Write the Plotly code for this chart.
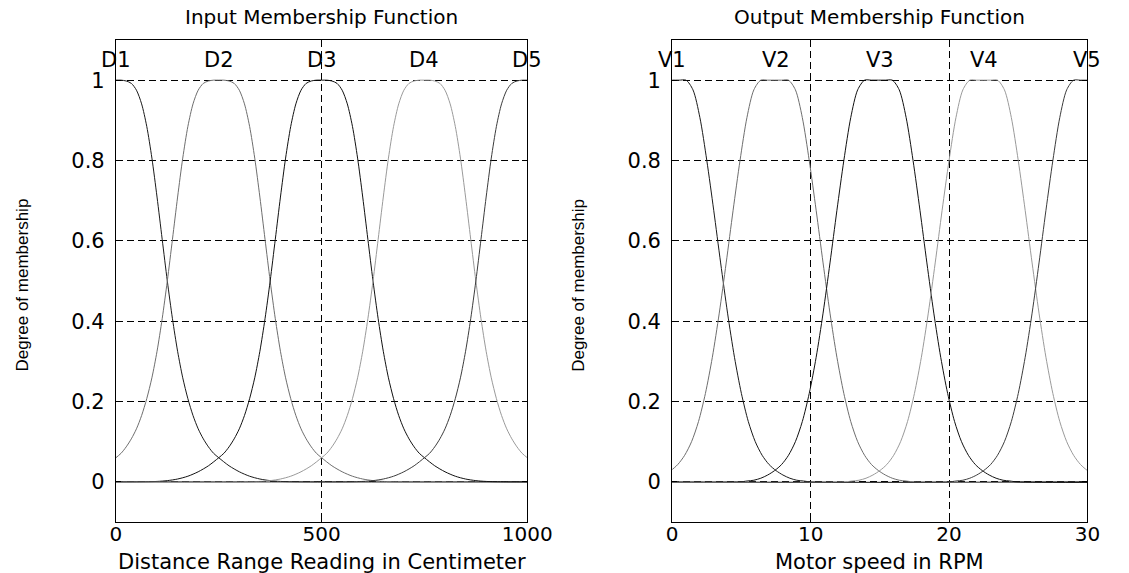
import plotly.graph_objects as go

# ---------------- data ----------------
input_labels = ["D1", "D2", "D3", "D4", "D5"]
input_centers = [0, 250, 500, 750, 1000]
# membership value read at distance from the centre (cm)
input_offsets = [0, 12.5, 25, 37.5, 50, 62.5, 75, 87.5, 100, 112.5, 125, 137.5, 150,
                 162.5, 175, 187.5, 200, 212.5, 225, 237.5, 250, 275, 300, 325, 350,
                 375, 400, 450, 1000]
input_profile = [1.000, 1.000, 0.998, 0.992, 0.975, 0.941, 0.885, 0.806, 0.709, 0.604,
                 0.500, 0.406, 0.325, 0.259, 0.207, 0.165, 0.132, 0.107, 0.087, 0.071,
                 0.060, 0.040, 0.025, 0.014, 0.007, 0.003, 0.001, 0.0, 0.0]

output_labels = ["V1", "V2", "V3", "V4", "V5"]
output_centers = [0, 7.4, 14.9, 22.5, 30]
output_label_pos = [0, 7.5, 15, 22.5, 30]
# membership value read at distance from the centre (RPM)
output_offsets = [0, 0.5, 1.0, 1.5, 2.0, 2.5, 3.0, 3.5, 4.0, 4.5, 5.0, 5.5, 6.0, 6.5,
                  7.0, 7.5, 8.0, 8.5, 9.0, 9.5, 10, 30]
output_profile = [1.0, 1.0, 1.0, 0.976, 0.907, 0.80, 0.676, 0.545, 0.42, 0.31, 0.22,
                  0.15, 0.10, 0.066, 0.043, 0.028, 0.017, 0.009, 0.004, 0.002, 0.0, 0.0]

line_colors = ["#1a1a1a", "#6e6e6e", "#111111", "#9a9a9a", "#3c3c3c"]

input_xticks = [0, 500, 1000]
output_xticks = [0, 10, 20, 30]
y_ticks = [0, 0.2, 0.4, 0.6, 0.8, 1]
y_ticktext = ["0", "0.2", "0.4", "0.6", "0.8", "1"]

titles = ["Input Membership Function", "Output Membership Function"]
xtitles = ["Distance Range Reading in Centimeter", "Motor speed in RPM"]
ytitle = "Degree of membership"

# ---------------- figure ----------------
W, H = 1129, 573
FONT = "DejaVu Sans"
fig = go.Figure()


def mf_trace(center, offsets, profile, color, xa, ya):
    xs = [center - o for o in reversed(offsets[1:])] + [center + o for o in offsets]
    ys = list(reversed(profile[1:])) + list(profile)
    return go.Scatter(x=xs, y=ys, mode="lines", xaxis=xa, yaxis=ya,
                      line=dict(color=color, width=1, shape="spline", smoothing=0.8),
                      showlegend=False, hoverinfo="skip")


for c, col in zip(input_centers, line_colors):
    fig.add_trace(mf_trace(c, input_offsets, input_profile, col, "x", "y"))
for c, col in zip(output_centers, line_colors):
    fig.add_trace(mf_trace(c, output_offsets, output_profile, col, "x2", "y2"))

px_l = [113, 536]
px_r = [685, 1112]
py = [40, 522]
ydom = [1 - py[1] / H, 1 - py[0] / H]

common_axis = dict(showline=True, linecolor="black", linewidth=1, mirror="ticks",
                   ticks="inside", ticklen=5, tickcolor="black",
                   showgrid=True, gridcolor="black", gridwidth=1, griddash="7px,4px",
                   zeroline=False)
yfont = dict(family=FONT, size=21, color="black")
xfont = dict(family=FONT, size=20, color="black")

fig.update_layout(
    width=W, height=H, margin=dict(l=0, r=0, t=0, b=0),
    paper_bgcolor="white", plot_bgcolor="white",
    xaxis=dict(domain=[px_l[0] / W, px_l[1] / W], range=[0, 1000], tickfont=xfont,
               tickvals=input_xticks, anchor="y", ticklabelstandoff=-6, **common_axis),
    yaxis=dict(domain=ydom, range=[-0.1, 1.1], tickvals=y_ticks, ticktext=y_ticktext,
               tickfont=yfont, anchor="x", ticklabelstandoff=6, **common_axis),
    xaxis2=dict(domain=[px_r[0] / W, px_r[1] / W], range=[0, 30], tickfont=xfont,
                tickvals=output_xticks, anchor="y2", ticklabelstandoff=-6, **common_axis),
    yaxis2=dict(domain=ydom, range=[-0.1, 1.1], tickvals=y_ticks, ticktext=y_ticktext,
                tickfont=yfont, anchor="x2", ticklabelstandoff=6, **common_axis),
)

ann = []
for lab, c in zip(input_labels, input_centers):
    ann.append(dict(x=c, y=1.05, xref="x", yref="y", text=lab, showarrow=False,
                    font=dict(family=FONT, size=21, color="black"),
                    xanchor="center", yanchor="middle"))
for lab, c in zip(output_labels, output_label_pos):
    ann.append(dict(x=c, y=1.05, xref="x2", yref="y2", text=lab, showarrow=False,
                    font=dict(family=FONT, size=21, color="black"),
                    xanchor="center", yanchor="middle"))

for px, t, xt in zip([px_l, px_r], titles, xtitles):
    cx = (px[0] + px[1]) / 2 / W
    ann.append(dict(x=cx, y=1 - 17 / H, xref="paper", yref="paper", text=t,
                    showarrow=False, font=dict(family=FONT, size=20, color="black"),
                    xanchor="center", yanchor="middle"))
    ann.append(dict(x=cx, y=1 - 562 / H, xref="paper", yref="paper", text=xt,
                    showarrow=False, font=dict(family=FONT, size=21, color="black"),
                    xanchor="center", yanchor="middle"))
    ann.append(dict(x=(px[0] - 97) / W, y=1 - 285 / H, xref="paper", yref="paper",
                    text=ytitle, textangle=-90, showarrow=False,
                    font=dict(family="Liberation Sans Narrow, Liberation Sans", size=17,
                              color="black"),
                    xanchor="center", yanchor="middle"))

fig.update_layout(annotations=ann)
fig.write_html("out.html")
